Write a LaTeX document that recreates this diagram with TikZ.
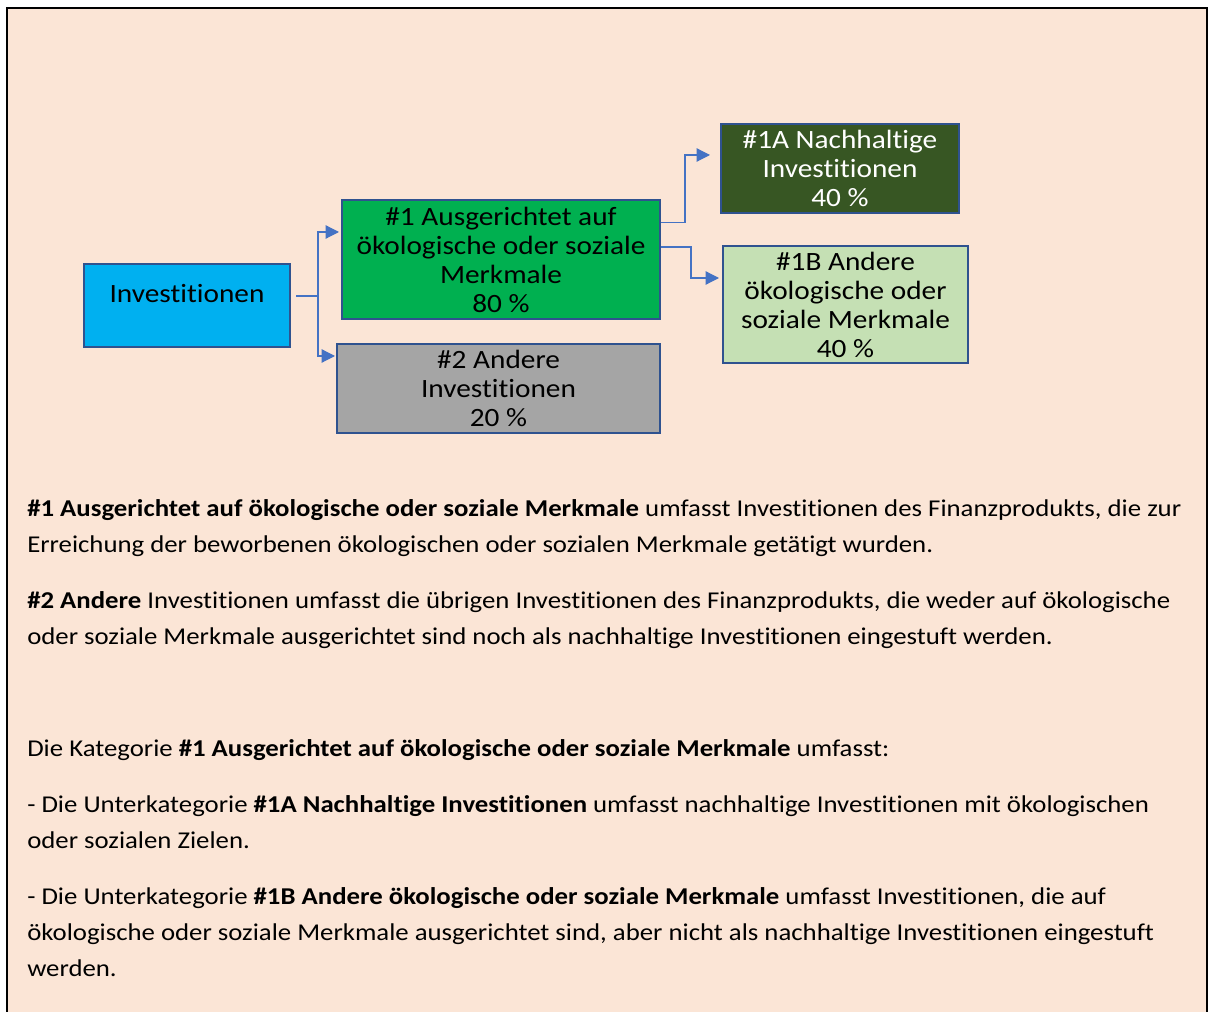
\documentclass[tikz,border=0pt]{standalone}
\usepackage{fontspec}
\setmainfont{Carlito}[Ligatures=NoCommon, FakeStretch=1.11]
\usepackage{xcolor}
\usetikzlibrary{arrows.meta}

\definecolor{pagepeach}{HTML}{FBE5D6}
\definecolor{boxblue}{HTML}{00B0F0}
\definecolor{boxgreen}{HTML}{00B050}
\definecolor{boxgrey}{HTML}{A5A5A5}
\definecolor{boxdark}{HTML}{375623}
\definecolor{boxlight}{HTML}{C5E0B4}
\definecolor{edgeblue}{HTML}{2F528F}
\definecolor{linkblue}{HTML}{4472C4}

\begin{document}
\begin{tikzpicture}[
        x=0.75pt, y=-0.75pt,
        block/.style={rectangle, draw=edgeblue, line width=1.5pt, align=center, inner sep=0pt,
            font=\fontsize{19.8}{21.75}\selectfont},
        arrow/.style={-{Triangle[length=10pt, width=10pt]}, draw=linkblue, line width=0.9pt},
        body/.style={anchor=base west, align=left, inner sep=0pt,
            font=\fontsize{18.1}{27}\selectfont}
    ]
        \useasboundingbox (0,0) rectangle (1214,1012);
        \draw[line width=1.5pt, fill=pagepeach] (7,8) rectangle (1207,1040);

        \node[block, fill=boxblue, minimum width=154.5pt, minimum height=62.25pt,
            text height=13pt, text depth=17pt] (invest) at (187,305.5) {Investitionen};
        \node[block, fill=boxgreen, minimum width=238.5pt, minimum height=89.25pt] (aligned) at (501,259.5)
            {\#1 Ausgerichtet auf\\ökologische oder soziale\\Merkmale\\80 \%};
        \node[block, fill=boxgrey, minimum width=242.25pt, minimum height=66.75pt] (other) at (498.5,388.5)
            {\#2 Andere\\Investitionen\\20 \%};
        \node[block, fill=boxdark, text=white, minimum width=178.5pt, minimum height=66.75pt] (sustain) at (840,168.5)
            {\#1A Nachhaltige\\Investitionen\\40 \%};
        \node[block, fill=boxlight, minimum width=183.75pt, minimum height=87.75pt] (otherchar) at (845.5,304.5)
            {\#1B Andere\\ökologische oder\\soziale Merkmale\\40 \%};

        \draw[arrow] ([shift={(5,-9.5)}]invest.east) -- ++(22,0) |- ([shift={(-2,-27.5)}]aligned.west);
        \draw[arrow] ([shift={(5,-9.5)}]invest.east) -- ++(22,0) |- ([shift={(-1,-32.5)}]other.west);
        \draw[arrow] ([yshift=28pt]aligned.east) -- ++(24,0) |- ([shift={(-10,-13.5)}]sustain.west);
        \draw[arrow] ([yshift=9.4pt]aligned.east) -- ++(30,0) |- ([shift={(-3,-26.5)}]otherchar.west);

        % explanations below the diagram (base = last line)
        \node[body] (note1) at (27,552) {\textbf{\#1 Ausgerichtet auf ökologische oder soziale Merkmale} umfasst Investitionen des Finanzprodukts, die zur\\
            Erreichung der beworbenen ökologischen oder sozialen Merkmale getätigt wurden.};
        \node[body] (note2) at (27,644) {\textbf{\#2 Andere} Investitionen umfasst die übrigen Investitionen des Finanzprodukts, die weder auf ökologische\\
            oder soziale Merkmale ausgerichtet sind noch als nachhaltige Investitionen eingestuft werden.};
        \node[body] (note3) at (27,756) {Die Kategorie \textbf{\#1 Ausgerichtet auf ökologische oder soziale Merkmale} umfasst:};
        \node[body] (note4) at (27,848) {- Die Unterkategorie \textbf{\#1A Nachhaltige Investitionen} umfasst nachhaltige Investitionen mit ökologischen\\
            oder sozialen Zielen.};
        \node[body] (note5) at (27,976) {- Die Unterkategorie \textbf{\#1B Andere ökologische oder soziale Merkmale} umfasst Investitionen, die auf\\
            ökologische oder soziale Merkmale ausgerichtet sind, aber nicht als nachhaltige Investitionen eingestuft\\
            werden.};
    \end{tikzpicture}
\end{document}
